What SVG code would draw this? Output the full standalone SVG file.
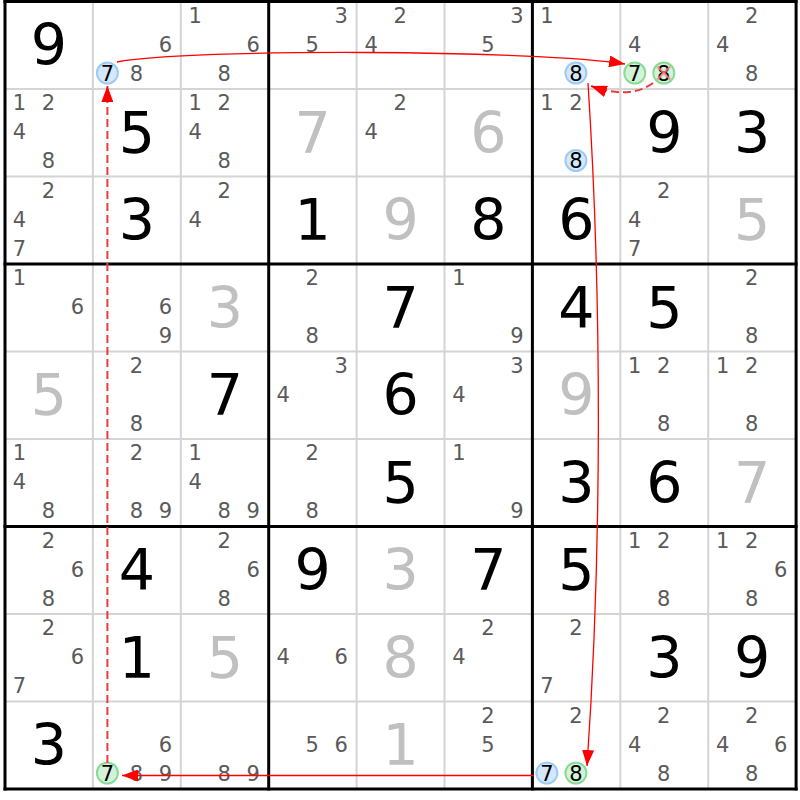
<svg xmlns="http://www.w3.org/2000/svg" width="800" height="800" viewBox="0 0 800 800">
<style>
text{font-family:"DejaVu Sans",Verdana,sans-serif;text-anchor:middle}
.c{font-size:21px;fill:#5a5a5a}
.k{font-size:21px;fill:#000}
.g{font-size:57px;fill:#000}
.s{font-size:57px;fill:#c0c0c0}
.cb{fill:#d4e8fa;stroke:#9ccbf5;stroke-width:2}
.cg{fill:#d4f2d8;stroke:#86dc96;stroke-width:2}
.thin{stroke:#d4d4d4;stroke-width:2}
.thick{stroke:#000;stroke-width:3}
.a{fill:none;stroke:#f00;stroke-width:1.3}
.d{fill:none;stroke:#f03a3a;stroke-width:2;stroke-dasharray:8 4}
.x{stroke:#ff7a7a;stroke-width:2;opacity:0.8}
</style>
<defs>
<marker id="ah" viewBox="0 0 16 12" refX="16" refY="6" markerWidth="16" markerHeight="12" markerUnits="userSpaceOnUse" orient="auto"><path d="M0,0 L16,6 L0,12 z" fill="#f00"/></marker>
</defs>
<rect width="800" height="800" fill="#fff"/>
<g id="grid">
<line class="thin" x1="92.9" y1="0" x2="92.9" y2="790"/>
<line class="thin" x1="180.8" y1="0" x2="180.8" y2="790"/>
<line class="thin" x1="356.6" y1="0" x2="356.6" y2="790"/>
<line class="thin" x1="444.5" y1="0" x2="444.5" y2="790"/>
<line class="thin" x1="620.3" y1="0" x2="620.3" y2="790"/>
<line class="thin" x1="708.2" y1="0" x2="708.2" y2="790"/>
<line class="thin" x1="5" y1="89" x2="796" y2="89"/>
<line class="thin" x1="5" y1="176.5" x2="796" y2="176.5"/>
<line class="thin" x1="5" y1="351.5" x2="796" y2="351.5"/>
<line class="thin" x1="5" y1="439" x2="796" y2="439"/>
<line class="thin" x1="5" y1="614" x2="796" y2="614"/>
<line class="thin" x1="5" y1="701.5" x2="796" y2="701.5"/>
<line class="thick" x1="5" y1="0" x2="5" y2="790.5"/>
<line class="thick" x1="268.7" y1="0" x2="268.7" y2="790.5"/>
<line class="thick" x1="532.4" y1="0" x2="532.4" y2="790.5"/>
<line class="thick" x1="796.1" y1="0" x2="796.1" y2="790.5"/>
<line class="thick" x1="3.5" y1="1.5" x2="797.6" y2="1.5"/>
<line class="thick" x1="3.5" y1="264" x2="797.6" y2="264"/>
<line class="thick" x1="3.5" y1="526.5" x2="797.6" y2="526.5"/>
<line class="thick" x1="3.5" y1="789" x2="797.6" y2="789"/>
</g>
<!-- row 0 -->
<g id="r0c0" transform="translate(5,1.5)"><text class="g" x="44" y="63.5">9</text></g>
<g id="r0c1" transform="translate(92.9,1.5)"><text class="c" x="72.5" y="50">6</text><circle class="cb" cx="14.5" cy="71.5" r="10.5"/><text class="k" x="14.5" y="79">7</text><text class="c" x="43.5" y="79">8</text></g>
<g id="r0c2" transform="translate(180.8,1.5)"><text class="c" x="14.5" y="21">1</text><text class="c" x="72.5" y="50">6</text><text class="c" x="43.5" y="79">8</text></g>
<g id="r0c3" transform="translate(268.7,1.5)"><text class="c" x="72.5" y="21">3</text><text class="c" x="43.5" y="50">5</text></g>
<g id="r0c4" transform="translate(356.6,1.5)"><text class="c" x="43.5" y="21">2</text><text class="c" x="14.5" y="50">4</text></g>
<g id="r0c5" transform="translate(444.5,1.5)"><text class="c" x="72.5" y="21">3</text><text class="c" x="43.5" y="50">5</text></g>
<g id="r0c6" transform="translate(532.4,1.5)"><text class="c" x="14.5" y="21">1</text><circle class="cb" cx="43.5" cy="71.5" r="10.5"/><text class="k" x="43.5" y="79">8</text></g>
<g id="r0c7" transform="translate(620.3,1.5)"><text class="c" x="14.5" y="50">4</text><circle class="cg" cx="14.5" cy="71.5" r="10.5"/><text class="k" x="14.5" y="79">7</text><circle class="cg" cx="43.5" cy="71.5" r="10.5"/><text class="k" x="43.5" y="79">8</text><line class="x" x1="37" y1="65" x2="50" y2="78"/><line class="x" x1="50" y1="65" x2="37" y2="78"/></g>
<g id="r0c8" transform="translate(708.2,1.5)"><text class="c" x="43.5" y="21">2</text><text class="c" x="14.5" y="50">4</text><text class="c" x="43.5" y="79">8</text></g>
<!-- row 1 -->
<g id="r1c0" transform="translate(5,89)"><text class="c" x="14.5" y="21">1</text><text class="c" x="43.5" y="21">2</text><text class="c" x="14.5" y="50">4</text><text class="c" x="43.5" y="79">8</text></g>
<g id="r1c1" transform="translate(92.9,89)"><text class="g" x="44" y="63.5">5</text></g>
<g id="r1c2" transform="translate(180.8,89)"><text class="c" x="14.5" y="21">1</text><text class="c" x="43.5" y="21">2</text><text class="c" x="14.5" y="50">4</text><text class="c" x="43.5" y="79">8</text></g>
<g id="r1c3" transform="translate(268.7,89)"><text class="s" x="44" y="63.5">7</text></g>
<g id="r1c4" transform="translate(356.6,89)"><text class="c" x="43.5" y="21">2</text><text class="c" x="14.5" y="50">4</text></g>
<g id="r1c5" transform="translate(444.5,89)"><text class="s" x="44" y="63.5">6</text></g>
<g id="r1c6" transform="translate(532.4,89)"><text class="c" x="14.5" y="21">1</text><text class="c" x="43.5" y="21">2</text><circle class="cb" cx="43.5" cy="71.5" r="10.5"/><text class="k" x="43.5" y="79">8</text></g>
<g id="r1c7" transform="translate(620.3,89)"><text class="g" x="44" y="63.5">9</text></g>
<g id="r1c8" transform="translate(708.2,89)"><text class="g" x="44" y="63.5">3</text></g>
<!-- row 2 -->
<g id="r2c0" transform="translate(5,176.5)"><text class="c" x="43.5" y="21">2</text><text class="c" x="14.5" y="50">4</text><text class="c" x="14.5" y="79">7</text></g>
<g id="r2c1" transform="translate(92.9,176.5)"><text class="g" x="44" y="63.5">3</text></g>
<g id="r2c2" transform="translate(180.8,176.5)"><text class="c" x="43.5" y="21">2</text><text class="c" x="14.5" y="50">4</text></g>
<g id="r2c3" transform="translate(268.7,176.5)"><text class="g" x="44" y="63.5">1</text></g>
<g id="r2c4" transform="translate(356.6,176.5)"><text class="s" x="44" y="63.5">9</text></g>
<g id="r2c5" transform="translate(444.5,176.5)"><text class="g" x="44" y="63.5">8</text></g>
<g id="r2c6" transform="translate(532.4,176.5)"><text class="g" x="44" y="63.5">6</text></g>
<g id="r2c7" transform="translate(620.3,176.5)"><text class="c" x="43.5" y="21">2</text><text class="c" x="14.5" y="50">4</text><text class="c" x="14.5" y="79">7</text></g>
<g id="r2c8" transform="translate(708.2,176.5)"><text class="s" x="44" y="63.5">5</text></g>
<!-- row 3 -->
<g id="r3c0" transform="translate(5,264)"><text class="c" x="14.5" y="21">1</text><text class="c" x="72.5" y="50">6</text></g>
<g id="r3c1" transform="translate(92.9,264)"><text class="c" x="72.5" y="50">6</text><text class="c" x="72.5" y="79">9</text></g>
<g id="r3c2" transform="translate(180.8,264)"><text class="s" x="44" y="63.5">3</text></g>
<g id="r3c3" transform="translate(268.7,264)"><text class="c" x="43.5" y="21">2</text><text class="c" x="43.5" y="79">8</text></g>
<g id="r3c4" transform="translate(356.6,264)"><text class="g" x="44" y="63.5">7</text></g>
<g id="r3c5" transform="translate(444.5,264)"><text class="c" x="14.5" y="21">1</text><text class="c" x="72.5" y="79">9</text></g>
<g id="r3c6" transform="translate(532.4,264)"><text class="g" x="44" y="63.5">4</text></g>
<g id="r3c7" transform="translate(620.3,264)"><text class="g" x="44" y="63.5">5</text></g>
<g id="r3c8" transform="translate(708.2,264)"><text class="c" x="43.5" y="21">2</text><text class="c" x="43.5" y="79">8</text></g>
<!-- row 4 -->
<g id="r4c0" transform="translate(5,351.5)"><text class="s" x="44" y="63.5">5</text></g>
<g id="r4c1" transform="translate(92.9,351.5)"><text class="c" x="43.5" y="21">2</text><text class="c" x="43.5" y="79">8</text></g>
<g id="r4c2" transform="translate(180.8,351.5)"><text class="g" x="44" y="63.5">7</text></g>
<g id="r4c3" transform="translate(268.7,351.5)"><text class="c" x="72.5" y="21">3</text><text class="c" x="14.5" y="50">4</text></g>
<g id="r4c4" transform="translate(356.6,351.5)"><text class="g" x="44" y="63.5">6</text></g>
<g id="r4c5" transform="translate(444.5,351.5)"><text class="c" x="72.5" y="21">3</text><text class="c" x="14.5" y="50">4</text></g>
<g id="r4c6" transform="translate(532.4,351.5)"><text class="s" x="44" y="63.5">9</text></g>
<g id="r4c7" transform="translate(620.3,351.5)"><text class="c" x="14.5" y="21">1</text><text class="c" x="43.5" y="21">2</text><text class="c" x="43.5" y="79">8</text></g>
<g id="r4c8" transform="translate(708.2,351.5)"><text class="c" x="14.5" y="21">1</text><text class="c" x="43.5" y="21">2</text><text class="c" x="43.5" y="79">8</text></g>
<!-- row 5 -->
<g id="r5c0" transform="translate(5,439)"><text class="c" x="14.5" y="21">1</text><text class="c" x="14.5" y="50">4</text><text class="c" x="43.5" y="79">8</text></g>
<g id="r5c1" transform="translate(92.9,439)"><text class="c" x="43.5" y="21">2</text><text class="c" x="43.5" y="79">8</text><text class="c" x="72.5" y="79">9</text></g>
<g id="r5c2" transform="translate(180.8,439)"><text class="c" x="14.5" y="21">1</text><text class="c" x="14.5" y="50">4</text><text class="c" x="43.5" y="79">8</text><text class="c" x="72.5" y="79">9</text></g>
<g id="r5c3" transform="translate(268.7,439)"><text class="c" x="43.5" y="21">2</text><text class="c" x="43.5" y="79">8</text></g>
<g id="r5c4" transform="translate(356.6,439)"><text class="g" x="44" y="63.5">5</text></g>
<g id="r5c5" transform="translate(444.5,439)"><text class="c" x="14.5" y="21">1</text><text class="c" x="72.5" y="79">9</text></g>
<g id="r5c6" transform="translate(532.4,439)"><text class="g" x="44" y="63.5">3</text></g>
<g id="r5c7" transform="translate(620.3,439)"><text class="g" x="44" y="63.5">6</text></g>
<g id="r5c8" transform="translate(708.2,439)"><text class="s" x="44" y="63.5">7</text></g>
<!-- row 6 -->
<g id="r6c0" transform="translate(5,526.5)"><text class="c" x="43.5" y="21">2</text><text class="c" x="72.5" y="50">6</text><text class="c" x="43.5" y="79">8</text></g>
<g id="r6c1" transform="translate(92.9,526.5)"><text class="g" x="44" y="63.5">4</text></g>
<g id="r6c2" transform="translate(180.8,526.5)"><text class="c" x="43.5" y="21">2</text><text class="c" x="72.5" y="50">6</text><text class="c" x="43.5" y="79">8</text></g>
<g id="r6c3" transform="translate(268.7,526.5)"><text class="g" x="44" y="63.5">9</text></g>
<g id="r6c4" transform="translate(356.6,526.5)"><text class="s" x="44" y="63.5">3</text></g>
<g id="r6c5" transform="translate(444.5,526.5)"><text class="g" x="44" y="63.5">7</text></g>
<g id="r6c6" transform="translate(532.4,526.5)"><text class="g" x="44" y="63.5">5</text></g>
<g id="r6c7" transform="translate(620.3,526.5)"><text class="c" x="14.5" y="21">1</text><text class="c" x="43.5" y="21">2</text><text class="c" x="43.5" y="79">8</text></g>
<g id="r6c8" transform="translate(708.2,526.5)"><text class="c" x="14.5" y="21">1</text><text class="c" x="43.5" y="21">2</text><text class="c" x="72.5" y="50">6</text><text class="c" x="43.5" y="79">8</text></g>
<!-- row 7 -->
<g id="r7c0" transform="translate(5,614)"><text class="c" x="43.5" y="21">2</text><text class="c" x="72.5" y="50">6</text><text class="c" x="14.5" y="79">7</text></g>
<g id="r7c1" transform="translate(92.9,614)"><text class="g" x="44" y="63.5">1</text></g>
<g id="r7c2" transform="translate(180.8,614)"><text class="s" x="44" y="63.5">5</text></g>
<g id="r7c3" transform="translate(268.7,614)"><text class="c" x="14.5" y="50">4</text><text class="c" x="72.5" y="50">6</text></g>
<g id="r7c4" transform="translate(356.6,614)"><text class="s" x="44" y="63.5">8</text></g>
<g id="r7c5" transform="translate(444.5,614)"><text class="c" x="43.5" y="21">2</text><text class="c" x="14.5" y="50">4</text></g>
<g id="r7c6" transform="translate(532.4,614)"><text class="c" x="43.5" y="21">2</text><text class="c" x="14.5" y="79">7</text></g>
<g id="r7c7" transform="translate(620.3,614)"><text class="g" x="44" y="63.5">3</text></g>
<g id="r7c8" transform="translate(708.2,614)"><text class="g" x="44" y="63.5">9</text></g>
<!-- row 8 -->
<g id="r8c0" transform="translate(5,701.5)"><text class="g" x="44" y="63.5">3</text></g>
<g id="r8c1" transform="translate(92.9,701.5)"><text class="c" x="72.5" y="50">6</text><circle class="cg" cx="14.5" cy="71.5" r="10.5"/><text class="k" x="14.5" y="79">7</text><text class="c" x="43.5" y="79">8</text><text class="c" x="72.5" y="79">9</text></g>
<g id="r8c2" transform="translate(180.8,701.5)"><text class="c" x="43.5" y="79">8</text><text class="c" x="72.5" y="79">9</text></g>
<g id="r8c3" transform="translate(268.7,701.5)"><text class="c" x="43.5" y="50">5</text><text class="c" x="72.5" y="50">6</text></g>
<g id="r8c4" transform="translate(356.6,701.5)"><text class="s" x="44" y="63.5">1</text></g>
<g id="r8c5" transform="translate(444.5,701.5)"><text class="c" x="43.5" y="21">2</text><text class="c" x="43.5" y="50">5</text></g>
<g id="r8c6" transform="translate(532.4,701.5)"><text class="c" x="43.5" y="21">2</text><circle class="cb" cx="14.5" cy="71.5" r="10.5"/><text class="k" x="14.5" y="79">7</text><circle class="cg" cx="43.5" cy="71.5" r="10.5"/><text class="k" x="43.5" y="79">8</text></g>
<g id="r8c7" transform="translate(620.3,701.5)"><text class="c" x="43.5" y="21">2</text><text class="c" x="14.5" y="50">4</text><text class="c" x="43.5" y="79">8</text></g>
<g id="r8c8" transform="translate(708.2,701.5)"><text class="c" x="43.5" y="21">2</text><text class="c" x="14.5" y="50">4</text><text class="c" x="72.5" y="50">6</text><text class="c" x="43.5" y="79">8</text></g>
<g id="connectors">
<path class="a" d="M117,62 C190,48 540,50 625,64" marker-end="url(#ah)"/>
<path class="d" d="M653,83 Q630,100 591,86" marker-end="url(#ah)"/>
<path class="a" d="M588,83 C602,300 602,550 587,766" marker-end="url(#ah)"/>
<path class="a" d="M534,775.5 L122,775.5" marker-end="url(#ah)"/>
<path class="d" d="M107.4,763 L107.4,86" marker-end="url(#ah)"/>
</g>
</svg>
